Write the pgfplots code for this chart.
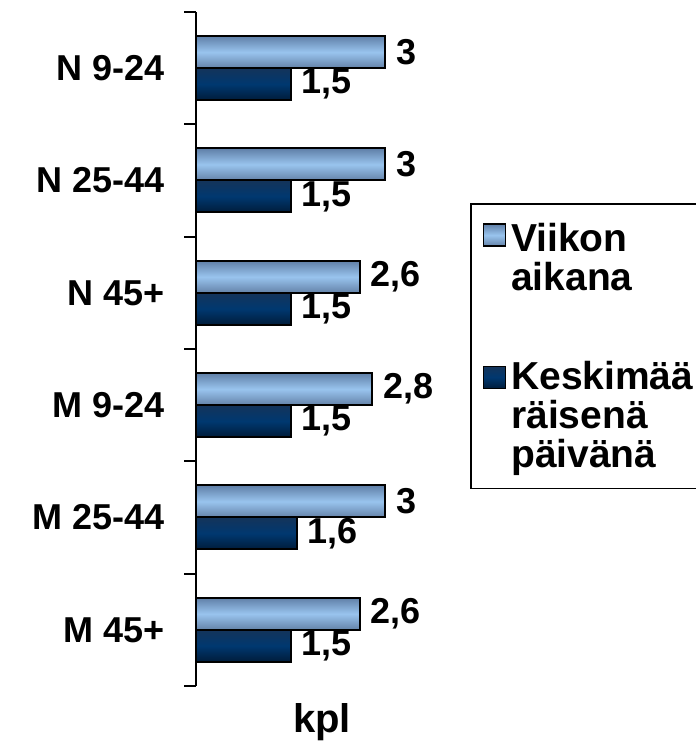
\documentclass[border=0pt]{standalone}
\usepackage{fontspec}
\setmainfont{Liberation Sans}
\usepackage{pgfplots}
\pgfplotsset{compat=1.18}

\definecolor{litetop}{RGB}{96,128,168}
\definecolor{litemid}{RGB}{153,196,238}
\definecolor{litebot}{RGB}{100,130,168}
\definecolor{darktop}{RGB}{20,52,90}
\definecolor{darkmid}{RGB}{0,56,112}
\definecolor{darkbot}{RGB}{0,28,58}

% middle color has to come after top and bottom color
\pgfplotsset{
  lite/.style={bar shift=16pt, draw=black, line width=2pt, forget plot,
    top color=litetop, bottom color=litebot, middle color=litemid},
  dark/.style={bar shift=-16pt, draw=black, line width=2pt, forget plot,
    top color=darktop, bottom color=darkbot, middle color=darkmid},
}

\begin{document}
\begin{tikzpicture}[x=1pt,y=1pt]
\begin{axis}[
  at={(196pt,57pt)}, anchor=south west,
  scale only axis,
  width=252pt, height=674pt,
  xbar,
  bar width=32pt,
  xmin=0, xmax=4,
  ymin=-0.5, ymax=5.5,
  axis y line*=left,
  axis x line*=bottom,
  x axis line style={draw=none},
  y axis line style={line width=2pt},
  xtick=\empty,
  ytick={0,...,5},
  yticklabels={M 45+, M 25-44, M 9-24, N 45+, N 25-44, N 9-24},
  minor ytick={-0.5,0.5,...,5.5},
  major tick length=0pt,
  minor tick length=12pt,
  tick align=outside,
  tick style={black, line width=2pt},
  yticklabel style={anchor=east, inner sep=0pt, xshift=-31pt,
    font=\fontsize{36}{40}\selectfont\bfseries},
  xlabel={kpl},
  xlabel style={at={(axis description cs:0.5,0)}, anchor=north,
    inner sep=0pt, yshift=-17pt, font=\fontsize{40}{44}\selectfont\bfseries},
  nodes near coords,
  nodes near coords align=horizontal,
  every node near coord/.append style={font=\fontsize{36}{40}\selectfont\bfseries,
    inner sep=0pt, xshift=10pt, black},
  /pgf/number format/.cd, use comma, fixed, precision=1, assume math mode=true,
  /pgfplots/.cd,
  legend style={at={(axis description cs:1.0873,0.7166)}, anchor=north west,
    draw=black, line width=1.5pt,
    inner xsep=12pt, inner ysep=17pt,
    row sep=66pt, column sep=3pt,
    font=\fontsize{39}{39}\selectfont\bfseries,
    nodes={inner sep=2pt},
    cells={align=left}},
  legend cell align=left,
]
% Viikon aikana
\addplot[lite] coordinates {(3,5)};
\addplot[lite] coordinates {(3,4)};
\addplot[lite] coordinates {(2.6,3)};
\addplot[lite] coordinates {(2.8,2)};
\addplot[lite] coordinates {(3,1)};
\addplot[lite] coordinates {(2.6,0)};
% Keskimaarainen paiva
\addplot[dark] coordinates {(1.5,5)};
\addplot[dark] coordinates {(1.5,4)};
\addplot[dark] coordinates {(1.5,3)};
\addplot[dark] coordinates {(1.5,2)};
\addplot[dark] coordinates {(1.6,1)};
\addplot[dark] coordinates {(1.5,0)};

\addlegendimage{legend image code/.code={
  \draw[black, line width=1.5pt, top color=litetop, bottom color=litebot,
    middle color=litemid] (0pt,11pt) rectangle (22pt,33pt);}}
\addlegendentry{Viikon\\aikana}
\addlegendimage{legend image code/.code={
  \draw[black, line width=1.5pt, top color=darktop, bottom color=darkbot,
    middle color=darkmid] (0pt,27pt) rectangle (22pt,49pt);}}
\addlegendentry{Keskimää\hspace*{30pt}\\räisenä\\päivänä}
\end{axis}
\pgfresetboundingbox
\path[use as bounding box] (0,0) rectangle (695,743);
\end{tikzpicture}
\end{document}
